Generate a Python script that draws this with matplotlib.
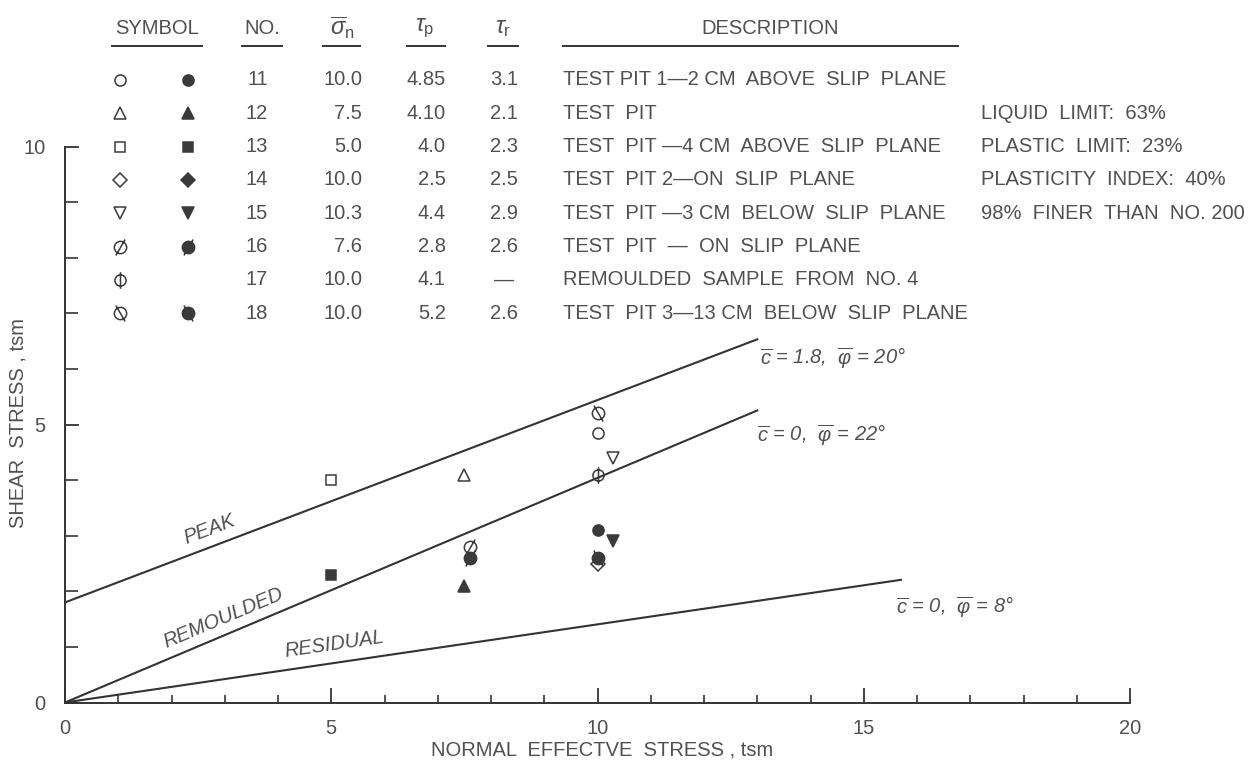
import numpy as np
import matplotlib
matplotlib.use('Agg')
import matplotlib.pyplot as plt
from matplotlib.path import Path

plt.rcParams['font.family'] = ['Liberation Sans', 'DejaVu Sans']
plt.rcParams['mathtext.fontset'] = 'custom'
plt.rcParams['mathtext.rm'] = 'Liberation Sans'
plt.rcParams['mathtext.it'] = 'Liberation Sans:italic'
plt.rcParams['mathtext.fallback'] = 'stixsans'

# test data (tsm)
test_no = [11, 12, 13, 14, 15, 16, 17, 18]
sigma_n = [10.0, 7.5, 5.0, 10.0, 10.3, 7.6, 10.0, 10.0]
tau_p = [4.85, 4.10, 4.0, 2.5, 4.4, 2.8, 4.1, 5.2]
tau_r = [3.1, 2.1, 2.3, 2.5, 2.9, 2.6, None, 2.6]
sigma_txt = ['10.0', '7.5', '5.0', '10.0', '10.3', '7.6', '10.0', '10.0']
tau_p_txt = ['4.85', '4.10', '4.0', '2.5', '4.4', '2.8', '4.1', '5.2']
tau_r_txt = ['3.1', '2.1', '2.3', '2.5', '2.9', '2.6', '\u2014', '2.6']
descriptions = ['TEST PIT 1\u20142 CM  ABOVE  SLIP  PLANE',
                'TEST  PIT',
                'TEST  PIT \u20144 CM  ABOVE  SLIP  PLANE',
                'TEST  PIT 2\u2014ON  SLIP  PLANE',
                'TEST  PIT \u20143 CM  BELOW  SLIP  PLANE',
                'TEST  PIT  \u2014  ON  SLIP  PLANE',
                'REMOULDED  SAMPLE  FROM  NO. 4',
                'TEST  PIT 3\u201413 CM  BELOW  SLIP  PLANE']
properties = ['LIQUID  LIMIT:  63%', 'PLASTIC  LIMIT:  23%',
              'PLASTICITY  INDEX:  40%', '98%  FINER  THAN  NO. 200']

# strength envelopes
env_names = ['PEAK', 'REMOULDED', 'RESIDUAL']
env_c = [1.8, 0.0, 0.0]
env_phi = [20, 22, 8]
env_xend = [13.0, 13.0, 15.7]

# custom symbols: circle with a stroke
def stroked(p0, p1):
    return Path.make_compound_path(Path.unit_circle(), Path([p0, p1]))

slash = stroked((-0.75, -1.3), (0.75, 1.3))
vbar = stroked((0, -1.5), (0, 1.5))
bslash = stroked((-0.75, 1.3), (0.75, -1.3))

open_mk = ['o', '^', 's', 'D', 'v', slash, vbar, bslash]
filled_mk = ['o', '^', 's', 'D', 'v', slash, None, bslash]
mk_size = [8, 8.5, 7.5, 7.5, 8.5, 11.5, 12, 11.5]

ink = '#3a3a3a'
txt = '#505050'
fs = 14.5

fig = plt.figure(figsize=(12.56, 7.67), dpi=100)
ax = fig.add_axes([65 / 1256, 64.5 / 767, 1065 / 1256, 702.5 / 767])
ax.set_xlim(0, 20)
ax.set_ylim(0, 702.5 / 55.6)

# envelopes
for name, c, phi, xe in zip(env_names, env_c, env_phi, env_xend):
    xs = np.array([0, xe])
    ax.plot(xs, c + np.tan(np.radians(phi)) * xs, color='#333333', lw=1.5, zorder=2)

lab_pos = [(2.72, 3.12), (2.97, 1.52), (5.05, 1.05)]
for name, c, phi, (lx, ly) in zip(env_names, env_c, env_phi, lab_pos):
    ang = np.degrees(np.arctan(np.tan(np.radians(phi))))
    ax.text(lx, ly, name, rotation=ang, transform_rotates_text=True,
            rotation_mode='anchor', ha='center', va='center',
            style='italic', fontsize=fs, color=txt)

eq_pos = [(13.05, 6.2), (13.0, 4.8), (15.6, 1.72)]
for c, phi, (ex, ey) in zip(env_c, env_phi, eq_pos):
    cs = '1.8' if c else '0'
    ax.text(ex, ey, r'$\overline{c}$ = ' + cs + r',  $\overline{\varphi}$ = ' + '%d\u00b0' % phi,
            style='italic', fontsize=fs, color=txt, va='center', ha='left')

# test points: open = peak, filled = residual
for i in range(len(test_no)):
    ax.plot(sigma_n[i], tau_p[i], marker=open_mk[i], ms=mk_size[i],
            mfc='none', mec=ink, mew=1.1, ls='none', zorder=4)
    r = tau_r[i]
    # no residual for 17; for 14 the residual equals the peak value
    if r is None or r == tau_p[i]:
        continue
    ax.plot(sigma_n[i], r, marker=filled_mk[i], ms=mk_size[i],
            mfc=ink, mec=ink, mew=1.1, ls='none', zorder=4)

# table
x_open, x_fill = 1.03, 2.31
x_no, x_sig, x_tp, x_tr = 3.81, 5.58, 7.15, 8.51
x_desc, x_prop = 9.35, 17.2
y_head, y_rule = 12.13, 11.81
rows_y = [11.2 - 0.6 * k for k in range(len(test_no))]

heads = [('SYMBOL', 1.73, 0.88, 2.57, fs), ('NO.', 3.70, 3.32, 4.08, fs),
         (r'$\overline{\sigma}_{\rm n}$', 5.20, 4.85, 5.54, 17),
         (r'$\tau_{\rm p}$', 6.76, 6.42, 7.14, 17),
         (r'$\tau_{\rm r}$', 8.23, 7.94, 8.51, 17),
         ('DESCRIPTION', 13.24, 9.35, 16.77, fs)]
for h, hx, u0, u1, hs in heads:
    ax.text(hx, y_head, h, ha='center', va='center', fontsize=hs, color=txt)
    ax.plot([u0, u1], [y_rule, y_rule], color='#333333', lw=1.4)

for k, y in enumerate(rows_y):
    ax.plot(x_open, y, marker=open_mk[k], ms=mk_size[k], mfc='none', mec=ink, mew=1.1)
    if filled_mk[k] is not None:
        ax.plot(x_fill, y, marker=filled_mk[k], ms=mk_size[k], mfc=ink, mec=ink, mew=1.1)
    ax.text(x_no, y, str(test_no[k]), ha='right', va='center', fontsize=fs, color=txt)
    ax.text(x_sig, y, sigma_txt[k], ha='right', va='center', fontsize=fs, color=txt)
    ax.text(x_tp, y, tau_p_txt[k], ha='right', va='center', fontsize=fs, color=txt)
    if tau_r[k] is None:
        ax.text(8.24, y, tau_r_txt[k], ha='center', va='center', fontsize=fs, color=txt)
    else:
        ax.text(x_tr, y, tau_r_txt[k], ha='right', va='center', fontsize=fs, color=txt)
    ax.text(x_desc, y, descriptions[k], ha='left', va='center', fontsize=fs, color=txt)

for k, p in enumerate(properties):
    ax.text(x_prop, rows_y[k + 1], p, ha='left', va='center', fontsize=fs, color=txt)

# axes
for s in ['top', 'right']:
    ax.spines[s].set_visible(False)
ax.spines['left'].set_bounds(0, 10)
ax.spines['bottom'].set_bounds(0, 20)
for s in ['left', 'bottom']:
    ax.spines[s].set_color('#333333')
    ax.spines[s].set_linewidth(1.4)
ax.set_xticks([0, 5, 10, 15, 20])
ax.set_xticks([v for v in range(1, 20) if v % 5], minor=True)
ax.set_yticks([0, 5, 10])
ax.set_yticks([v for v in range(1, 10) if v % 5], minor=True)
ax.tick_params(axis='x', which='major', direction='in', length=11, width=1.3,
               pad=12, labelsize=fs, colors='#333333', labelcolor=txt)
ax.tick_params(axis='x', which='minor', direction='in', length=6, width=1.2, colors='#333333')
ax.tick_params(axis='y', which='major', direction='in', length=10, width=1.3,
               pad=14, labelsize=fs, colors='#333333', labelcolor=txt)
ax.tick_params(axis='y', which='minor', direction='in', length=9, width=1.2, colors='#333333')

fig.text(602 / 1256, 1 - 750 / 767, 'NORMAL  EFFECTVE  STRESS , tsm', ha='center', va='center',
         fontsize=fs, color=txt)
fig.text(18 / 1256, 1 - 423 / 767, 'SHEAR  STRESS , tsm', ha='center', va='center',
         rotation=90, fontsize=fs, color=txt)

fig.savefig('out.png', dpi=100, facecolor='white')
